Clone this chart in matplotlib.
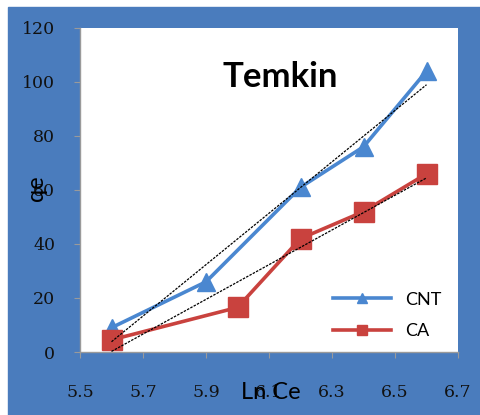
import numpy as np
import matplotlib
matplotlib.use("Agg")
from matplotlib import pyplot as plt
from matplotlib.patches import Rectangle

# data
cnt_x = [5.6, 5.9, 6.2, 6.4, 6.6]
cnt_y = [9, 26, 61, 76, 104]
ca_x = [5.6, 6.0, 6.2, 6.4, 6.6]
ca_y = [4.5, 16.5, 42, 52, 66]

x_ticks = [5.5, 5.7, 5.9, 6.1, 6.3, 6.5, 6.7]
y_ticks = [0, 20, 40, 60, 80, 100, 120]

bg_blue = '#4a7cbd'
line_blue = '#4a87d0'
line_red = '#c9423e'

W, H = 481, 415
fig = plt.figure(figsize=(W / 100, H / 100), dpi=100)
fig.patch.set_facecolor('white')
fig.patches.append(Rectangle((8 / W, 0), 1 - 8 / W, 1 - 7 / H,
                             transform=fig.transFigure, color=bg_blue, zorder=-10))

ax = fig.add_axes([80 / W, 1 - 352 / H, 378 / W, 324 / H])
ax.set_zorder(1)
ax.set_facecolor('white')

ax.plot(cnt_x, cnt_y, color=line_blue, lw=2.6, marker='^', ms=13,
        label='CNT', zorder=3)
ax.plot(ca_x, ca_y, color=line_red, lw=2.6, marker='s', ms=14,
        label='CA', zorder=4)

# linear trendlines
for xs, ys in [(cnt_x, cnt_y), (ca_x, ca_y)]:
    k, b = np.polyfit(xs, ys, 1)
    xx = np.array([xs[0], xs[-1]])
    ax.plot(xx, k * xx + b, color='black', lw=0.9, ls=(0, (2, 1)), zorder=5)

ax.set_xlim(5.5, 6.7)
ax.set_ylim(0, 120)
ax.set_xticks(x_ticks)
ax.set_yticks(y_ticks)
ax.set_xticklabels([f'{v:.1f}' for v in x_ticks], family='DejaVu Serif', fontsize=12.5)
ax.set_yticklabels([str(v) for v in y_ticks], family='DejaVu Serif', fontsize=12.5)
ax.tick_params(axis='x', length=4, color='#9a9a9a', pad=19, labelcolor='#111111')
ax.tick_params(axis='y', length=4, color='#9a9a9a', pad=14, labelcolor='#111111')
for s in ['top', 'right']:
    ax.spines[s].set_visible(False)
for s in ['left', 'bottom']:
    ax.spines[s].set_color('#9a9a9a')
    ax.spines[s].set_linewidth(1)

ax.text(0.53, 0.85, 'Temkin', transform=ax.transAxes, ha='center', va='center',
        family='Lato', fontweight='bold', fontsize=25)

fig.text(271 / W, 1 - 392 / H, 'Ln Ce', ha='center', va='center',
         family='Lato', fontsize=17, zorder=5)
fig.text(37 / W, 1 - 188 / H, 'qe', ha='center', va='center', rotation=90,
         family='Lato', fontsize=17, zorder=5)

leg = ax.legend(loc='lower right', bbox_to_anchor=(1.0, -0.01), frameon=False,
                markerscale=0.55, handlelength=3.2,
                prop={'family': 'Lato', 'size': 13}, labelspacing=0.85)

fig.savefig('out.png', dpi=100, facecolor=fig.get_facecolor())
